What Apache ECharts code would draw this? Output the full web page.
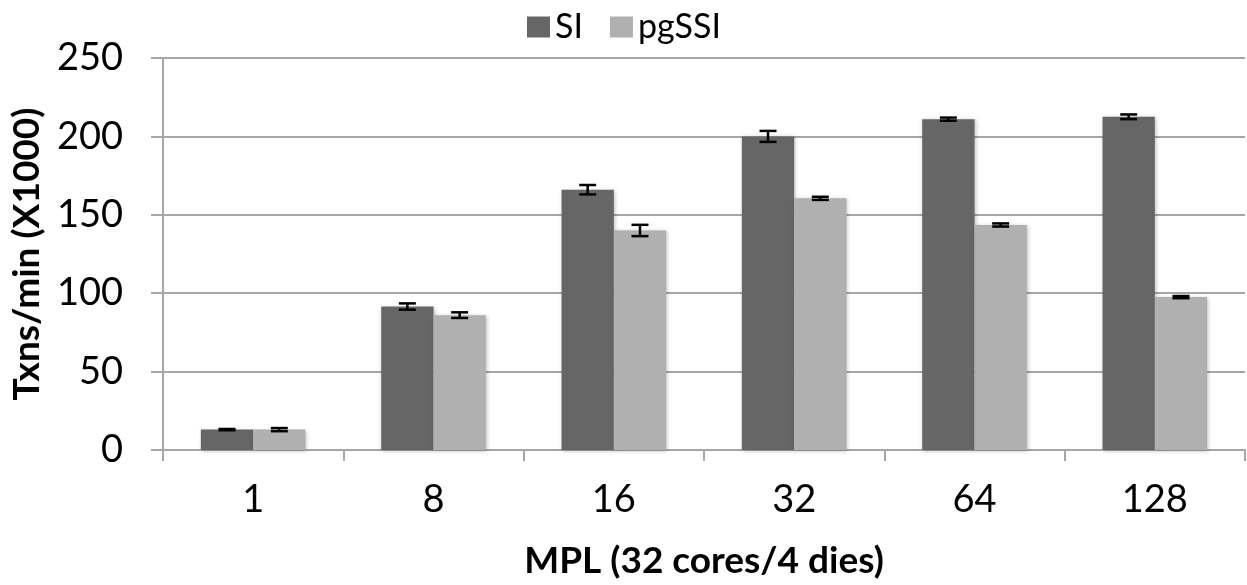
<!DOCTYPE html>
<html>
<head>
<meta charset="utf-8">
<script src="https://cdn.jsdelivr.net/npm/echarts@6/dist/echarts.min.js"></script>
<style>
html,body{margin:0;padding:0;background:#fff;}
#chart{width:1247px;height:585px;}
</style>
</head>
<body>
<div id="chart"></div>
<script>
const categories = ['1', '8', '16', '32', '64', '128'];
const siValues = [13, 91.5, 166, 200, 211, 212.5];
const siErrors = [0.4, 2, 3, 3.5, 1, 1.5];
const pgssiValues = [13, 86, 140, 160.5, 143.5, 97.5];
const pgssiErrors = [1, 1.8, 3.6, 1, 1, 0.7];
const yTicks = [0, 50, 100, 150, 200, 250];

const GAP = 0.42;
const FONT = 'Lato';

function errorSeries(values, errors, side) {
  return {
    type: 'custom',
    z: 10,
    silent: true,
    data: values.map((v, i) => [i, v, errors[i]]),
    renderItem: function (params, api) {
      const i = api.value(0);
      const v = api.value(1);
      const e = api.value(2);
      const band = api.size([1, 0])[0];
      const barW = band * (1 - GAP) / 2;
      const top = api.coord([i, v + e]);
      const bot = api.coord([i, v - e]);
      const x = top[0] + side * barW / 2;
      const cap = 8.5;
      const st = { stroke: '#000', lineWidth: 2.5 };
      return {
        type: 'group',
        children: [
          { type: 'line', shape: { x1: x, y1: top[1], x2: x, y2: bot[1] }, style: st },
          { type: 'line', shape: { x1: x - cap, y1: top[1], x2: x + cap, y2: top[1] }, style: st },
          { type: 'line', shape: { x1: x - cap, y1: bot[1], x2: x + cap, y2: bot[1] }, style: st }
        ]
      };
    }
  };
}

const chart = echarts.init(document.getElementById('chart'), null, { renderer: 'canvas' });
chart.setOption({
  animation: false,
  backgroundColor: '#ffffff',
  textStyle: { fontFamily: FONT },
  legend: {
    left: 522,
    top: 5,
    itemWidth: 23,
    itemHeight: 21,
    itemGap: 27,
    icon: 'rect',
    textStyle: { fontFamily: FONT, fontSize: 34, color: '#000' },
    data: ['SI', 'pgSSI']
  },
  grid: { left: 163, right: 2, top: 58, bottom: 134, containLabel: false },
  xAxis: {
    type: 'category',
    data: categories,
    axisLine: { lineStyle: { color: '#a6a6a6', width: 2 } },
    axisTick: { show: true, length: 11, lineStyle: { color: '#a6a6a6', width: 2 } },
    axisLabel: { fontFamily: FONT, fontSize: 38, color: '#000', margin: 31 },
    name: 'MPL (32 cores/4 dies)',
    nameLocation: 'middle',
    nameGap: 93,
    nameTextStyle: { fontFamily: FONT, fontSize: 37, fontWeight: 'bold', color: '#000' }
  },
  yAxis: {
    type: 'value',
    min: yTicks[0],
    max: yTicks[yTicks.length - 1],
    interval: 50,
    axisLine: { show: true, lineStyle: { color: '#a6a6a6', width: 2 } },
    axisTick: { show: true, length: 12, lineStyle: { color: '#a6a6a6', width: 2 } },
    splitLine: { lineStyle: { color: '#a6a6a6', width: 2 } },
    axisLabel: { fontFamily: FONT, fontSize: 38, color: '#000', margin: 40 },
    name: 'Txns/min (X1000)',
    nameLocation: 'middle',
    nameGap: 113,
    nameRotate: 90,
    nameTextStyle: { fontFamily: FONT, fontSize: 37, fontWeight: 'bold', color: '#000' }
  },
  series: [
    {
      name: 'SI', type: 'bar', data: siValues,
      barGap: '0%', barCategoryGap: (GAP * 100) + '%',
      itemStyle: { color: '#666666', shadowBlur: 4, shadowColor: 'rgba(0,0,0,0.25)', shadowOffsetX: 1, shadowOffsetY: 1 }
    },
    {
      name: 'pgSSI', type: 'bar', data: pgssiValues,
      barGap: '0%', barCategoryGap: (GAP * 100) + '%',
      itemStyle: { color: '#b0b0b0', shadowBlur: 4, shadowColor: 'rgba(0,0,0,0.25)', shadowOffsetX: 1, shadowOffsetY: 1 }
    },
    errorSeries(siValues, siErrors, -1),
    errorSeries(pgssiValues, pgssiErrors, 1)
  ]
});
</script>
</body>
</html>
